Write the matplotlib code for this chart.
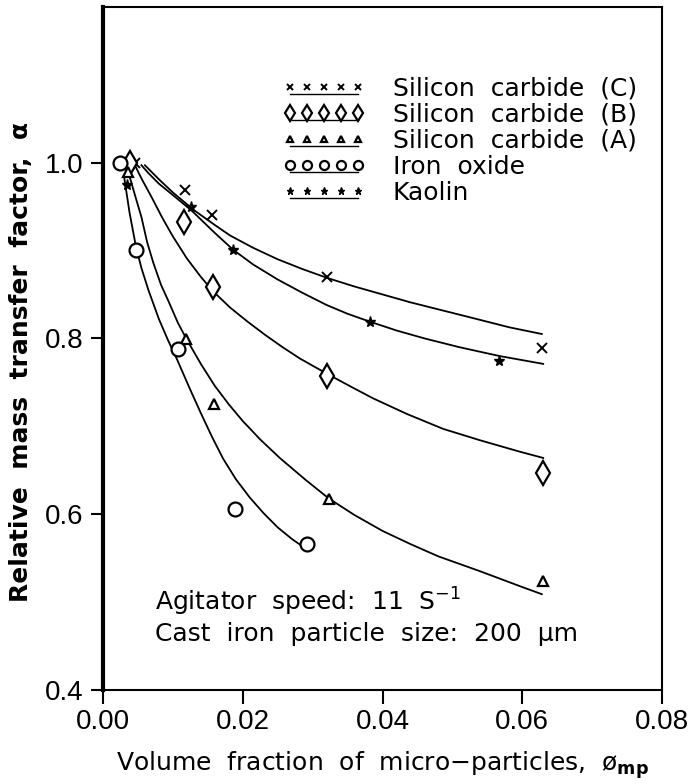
import numpy as np
import matplotlib
matplotlib.use('Agg')
import matplotlib.pyplot as plt
from matplotlib.legend_handler import HandlerLine2DCompound

sic_c_x = [0.0046, 0.0117, 0.0156, 0.0320, 0.0628]
sic_c_y = [1.000, 0.969, 0.940, 0.870, 0.789]
sic_b_x = [0.0038, 0.0116, 0.0157, 0.0320, 0.0630]
sic_b_y = [1.000, 0.932, 0.859, 0.757, 0.647]
sic_a_x = [0.0036, 0.0119, 0.0159, 0.0323, 0.0630]
sic_a_y = [0.989, 0.799, 0.725, 0.617, 0.524]
iron_x = [0.0024, 0.0047, 0.0107, 0.0189, 0.0292]
iron_y = [1.000, 0.901, 0.788, 0.606, 0.566]
kaolin_x = [0.0035, 0.0126, 0.0186, 0.0382, 0.0567]
kaolin_y = [0.975, 0.950, 0.900, 0.819, 0.774]

# fitted curves (traced)
fit_c_x = [0.0060, 0.0070, 0.0080, 0.0100, 0.0115, 0.0130, 0.0160, 0.0182, 0.0215, 0.0250,
           0.0285, 0.0320, 0.0360, 0.0400, 0.0440, 0.0480, 0.0530, 0.0582, 0.0628]
fit_c_y = [0.997, 0.989, 0.981, 0.966, 0.956, 0.946, 0.929, 0.917, 0.903, 0.890,
           0.879, 0.869, 0.859, 0.850, 0.841, 0.833, 0.823, 0.8125, 0.805]
fit_k_x = [0.0055, 0.0065, 0.0080, 0.0100, 0.0126, 0.0160, 0.0186, 0.0215, 0.0250, 0.0285,
           0.0320, 0.0350, 0.0382, 0.0420, 0.0460, 0.0510, 0.0567, 0.0630]
fit_k_y = [0.997, 0.988, 0.976, 0.963, 0.946, 0.920, 0.901, 0.884, 0.867, 0.852,
           0.838, 0.828, 0.819, 0.809, 0.800, 0.790, 0.780, 0.771]
fit_b_x = [0.0045, 0.0055, 0.0070, 0.0085, 0.0100, 0.0120, 0.0140, 0.0157, 0.0182, 0.0207,
           0.0232, 0.0257, 0.0282, 0.0320, 0.0355, 0.0386, 0.0435, 0.0487, 0.0540, 0.0597,
           0.0630]
fit_b_y = [0.998, 0.982, 0.960, 0.937, 0.916, 0.891, 0.870, 0.854, 0.835, 0.819,
           0.804, 0.790, 0.777, 0.760, 0.745, 0.732, 0.714, 0.697, 0.684, 0.671,
           0.664]
fit_a_x = [0.0036, 0.0045, 0.0055, 0.0063, 0.0072, 0.0083, 0.0095, 0.0107, 0.0119, 0.0140,
           0.0160, 0.0180, 0.0200, 0.0225, 0.0253, 0.0290, 0.0323, 0.0360, 0.0400, 0.0440,
           0.0480, 0.0540, 0.0597, 0.0628]
fit_a_y = [0.990, 0.965, 0.938, 0.910, 0.886, 0.861, 0.840, 0.818, 0.800, 0.771,
           0.746, 0.725, 0.706, 0.685, 0.664, 0.639, 0.618, 0.599, 0.581, 0.566,
           0.552, 0.535, 0.518, 0.509]
fit_i_x = [0.0030, 0.0038, 0.0047, 0.0055, 0.0065, 0.0080, 0.0093, 0.0106, 0.0123, 0.0140,
           0.0156, 0.0172, 0.0190, 0.0210, 0.0230, 0.0250, 0.0270, 0.0288]
fit_i_y = [0.985, 0.943, 0.905, 0.880, 0.855, 0.822, 0.798, 0.776, 0.745, 0.715,
           0.688, 0.663, 0.640, 0.619, 0.601, 0.585, 0.572, 0.562]

labels = ['Silicon  carbide  (C)', 'Silicon  carbide  (B)', 'Silicon  carbide  (A)',
          'Iron  oxide', 'Kaolin']


class UnderlineHandler(HandlerLine2DCompound):
    # markers sit on top of a short rule, like the original key
    def create_artists(self, legend, orig_handle, xdescent, ydescent,
                       width, height, fontsize, trans):
        line, marks = super().create_artists(legend, orig_handle, xdescent, ydescent,
                                             width, height, fontsize, trans)
        line.set_linestyle('-')
        line.set_linewidth(1.0)
        line.set_color('black')
        line.set_ydata(np.asarray(line.get_ydata()) - 0.40 * height)
        return [line, marks]


fig = plt.figure(figsize=(6.96, 7.84), dpi=100)
ax = fig.add_axes([103/696, 1 - 690/784, 559/696, 683/784])

for fx, fy in [(fit_c_x, fit_c_y), (fit_k_x, fit_k_y), (fit_b_x, fit_b_y),
               (fit_a_x, fit_a_y), (fit_i_x, fit_i_y)]:
    ax.plot(fx, fy, 'k-', lw=1.3)

h1, = ax.plot(sic_c_x, sic_c_y, 'x', color='k', ms=7, mew=1.4, ls='none')
h2, = ax.plot(sic_b_x, sic_b_y, 'd', mfc='white', mec='k', ms=12, mew=1.6, ls='none')
h3, = ax.plot(sic_a_x, sic_a_y, '^', mfc='white', mec='k', ms=7, mew=1.6, ls='none')
h4, = ax.plot(iron_x, iron_y, 'o', mfc='white', mec='k', ms=10, mew=1.6, ls='none')
h5, = ax.plot(kaolin_x, kaolin_y, '*', color='k', ms=8, ls='none')

leg = ax.legend([h1, h2, h3, h4, h5], labels, loc='upper left',
                bbox_to_anchor=(0.322, 0.898), frameon=False, numpoints=5,
                handlelength=3.3, handletextpad=1.1, labelspacing=0.08,
                borderpad=0, borderaxespad=0, markerscale=0.65,
                prop={'family': 'DejaVu Sans', 'size': 18},
                handler_map={matplotlib.lines.Line2D: UnderlineHandler()})

ax.text(0.093, 0.108, 'Agitator  speed:  11  S$^{-1}$\nCast  iron  particle  size:  200  µm',
        transform=ax.transAxes, fontsize=18, family='DejaVu Sans',
        va='center', ha='left', linespacing=1.2)

ax.set_xlim(0, 0.08)
ax.set_ylim(0.4, 1.177)
ax.set_xticks([0.0, 0.02, 0.04, 0.06, 0.08])
ax.set_xticklabels(['0.00', '0.02', '0.04', '0.06', '0.08'])
ax.set_yticks([0.4, 0.6, 0.8, 1.0])
ax.set_yticklabels(['0.4', '0.6', '0.8', '1.0'])
ax.tick_params(axis='x', direction='out', length=10, width=1.5, pad=4,
               labelsize=20)
ax.tick_params(axis='y', direction='out', length=9, width=1.5, pad=5,
               labelsize=20)
for lab in ax.get_xticklabels() + ax.get_yticklabels():
    lab.set_family('Liberation Sans')

ax.spines['left'].set_linewidth(3)
for s in ['top', 'right', 'bottom']:
    ax.spines[s].set_linewidth(1.5)

ax.set_xlabel('Volume  fraction  of  micro\u2212particles,  ø$_{\\mathbf{mp}}$',
              fontsize=18, family='DejaVu Sans', labelpad=10)
ax.set_ylabel('Relative  mass  transfer  factor,  α', fontsize=18,
              family='DejaVu Sans', fontweight='bold')
ax.yaxis.set_label_coords(-0.125, 0.48)

fig.savefig('out.png', dpi=100)
